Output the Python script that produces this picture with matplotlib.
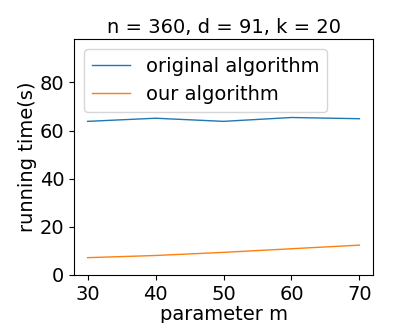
import matplotlib
matplotlib.use("Agg")
import matplotlib.pyplot as plt

# parameter m values and running times (seconds)
m_values = [30, 40, 50, 60, 70]
original_time = [63.8, 65.1, 63.8, 65.4, 64.9]
our_time = [7.2, 8.1, 9.4, 10.9, 12.4]

fig = plt.figure(figsize=(4.15, 3.23), dpi=100)
ax = fig.add_axes([74 / 415, 1 - 275 / 323, (373 - 74) / 415, (275 - 39) / 323])

ax.plot(m_values, original_time, color="tab:blue", linewidth=1.0, label="original algorithm")
ax.plot(m_values, our_time, color="tab:orange", linewidth=1.0, label="our algorithm")

ax.set_ylim(0, 98)
ax.set_xticks([30, 40, 50, 60, 70])
ax.set_yticks([0, 20, 40, 60, 80])
ax.tick_params(labelsize=14)
ax.set_xlabel("parameter m", fontsize=14, labelpad=1)
ax.set_ylabel("running time(s)", fontsize=14, labelpad=2)
ax.set_title("n = 360, d = 91, k = 20", fontsize=14, pad=4)
ax.legend(loc="upper left", fontsize=14)

fig.savefig("out.png", dpi=100)
